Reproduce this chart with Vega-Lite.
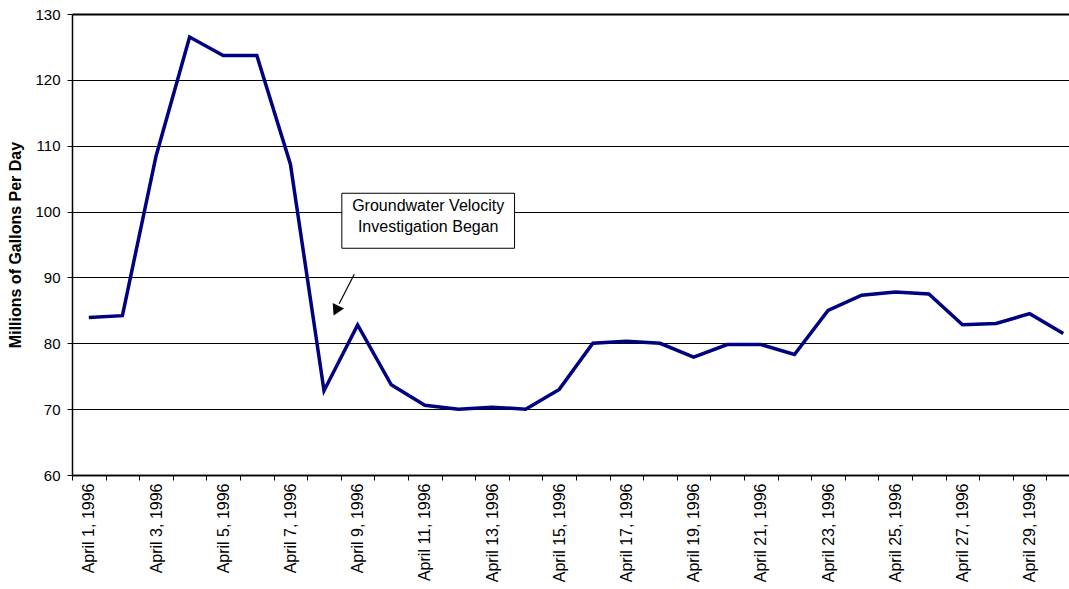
{
  "$schema": "https://vega.github.io/schema/vega-lite/v6.json",
  "autosize": "none",
  "width": 997,
  "height": 461,
  "padding": {"left": 72, "top": 14, "right": 0, "bottom": 114},
  "background": "white",
  "config": {
    "view": {"stroke": null},
    "font": "Liberation Sans"
  },
  "resolve": {"axis": {"x": "independent"}},
  "data": {
    "values": [
      {"day": 1, "mgd": 83.9},
      {"day": 2, "mgd": 84.2},
      {"day": 3, "mgd": 108.4},
      {"day": 4, "mgd": 126.5},
      {"day": 5, "mgd": 123.7},
      {"day": 6, "mgd": 123.7},
      {"day": 7, "mgd": 107.2},
      {"day": 8, "mgd": 72.8},
      {"day": 9, "mgd": 82.8},
      {"day": 10, "mgd": 73.7},
      {"day": 11, "mgd": 70.6},
      {"day": 12, "mgd": 70.0},
      {"day": 13, "mgd": 70.3},
      {"day": 14, "mgd": 70.0},
      {"day": 15, "mgd": 73.0},
      {"day": 16, "mgd": 80.0},
      {"day": 17, "mgd": 80.3},
      {"day": 18, "mgd": 80.0},
      {"day": 19, "mgd": 77.9},
      {"day": 20, "mgd": 79.8},
      {"day": 21, "mgd": 79.8},
      {"day": 22, "mgd": 78.3},
      {"day": 23, "mgd": 85.0},
      {"day": 24, "mgd": 87.3},
      {"day": 25, "mgd": 87.8},
      {"day": 26, "mgd": 87.5},
      {"day": 27, "mgd": 82.8},
      {"day": 28, "mgd": 83.0},
      {"day": 29, "mgd": 84.5},
      {"day": 30, "mgd": 81.5}
    ]
  },
  "layer": [
    {
      "mark": {"type": "line", "color": "#000080", "strokeWidth": 3.5, "strokeJoin": "miter"},
      "encoding": {
        "x": {
          "field": "day",
          "type": "quantitative",
          "scale": {"domain": [0.5, 30.17], "nice": false, "zero": false},
          "axis": {
            "orient": "bottom",
            "title": null,
            "grid": false,
            "values": [1, 3, 5, 7, 9, 11, 13, 15, 17, 19, 21, 23, 25, 27, 29],
            "labelExpr": "'April ' + datum.value + ', 1996'",
            "labelAngle": -90,
            "labelAlign": "right",
            "labelBaseline": "middle",
            "labelFontSize": 16,
            "labelColor": "black",
            "labelOverlap": false,
            "labelFlush": false,
            "labelBound": false,
            "labelPadding": 8,
            "tickSize": 5,
            "ticks": false,
            "domainColor": "black",
            "domainWidth": 1.5
          }
        },
        "y": {
          "field": "mgd",
          "type": "quantitative",
          "scale": {"domain": [60, 130], "nice": false, "zero": false},
          "axis": {
            "title": "Millions of Gallons Per Day",
            "titleFontSize": 16,
            "titleFontWeight": "bold",
            "titleColor": "black",
            "titlePadding": 11,
            "values": [60, 70, 80, 90, 100, 110, 120, 130],
            "labelFontSize": 15,
            "labelColor": "black",
            "labelPadding": 7,
            "tickSize": 5,
            "tickColor": "black",
            "domainColor": "black",
            "domainWidth": 1.5,
            "grid": true,
            "gridColor": "black",
            "gridOpacity": 1,
            "gridWidth": {"condition": {"test": "datum.value == 130", "value": 2}, "value": 1}
          }
        }
      }
    },
    {
      "data": {"values": [{}]},
      "mark": {"type": "rect", "fill": "white", "stroke": "black", "strokeWidth": 1},
      "encoding": {
        "x": {
          "datum": 8.53,
          "type": "quantitative",
          "axis": {
            "orient": "bottom",
            "title": null,
            "grid": false,
            "labels": false,
            "values": [0.5, 1.5, 2.5, 3.5, 4.5, 5.5, 6.5, 7.5, 8.5, 9.5, 10.5, 11.5, 12.5, 13.5, 14.5, 15.5, 16.5, 17.5, 18.5, 19.5, 20.5, 21.5, 22.5, 23.5, 24.5, 25.5, 26.5, 27.5, 28.5, 29.5],
            "tickSize": 5,
            "tickColor": "black",
            "domainColor": "black",
            "domainWidth": 1.5
          }
        },
        "x2": {"datum": 13.67},
        "y": {"datum": 102.78, "type": "quantitative"},
        "y2": {"datum": 94.43}
      }
    },
    {
      "data": {"values": [{}]},
      "mark": {
        "type": "text",
        "text": ["Groundwater Velocity", "Investigation Began"],
        "fontSize": 16,
        "lineHeight": 21,
        "align": "center",
        "baseline": "alphabetic",
        "color": "black"
      },
      "encoding": {
        "x": {"datum": 11.1, "type": "quantitative", "axis": null},
        "y": {"datum": 100.13, "type": "quantitative"}
      }
    },
    {
      "data": {"values": [{}]},
      "mark": {"type": "rule", "color": "black", "strokeWidth": 1.2},
      "encoding": {
        "x": {"datum": 8.9, "type": "quantitative", "axis": null},
        "y": {"datum": 90.48, "type": "quantitative"},
        "x2": {"datum": 8.45},
        "y2": {"datum": 86.0}
      }
    },
    {
      "data": {"values": [{}]},
      "mark": {"type": "point", "shape": "triangle", "filled": true, "color": "black", "opacity": 1, "size": 160, "angle": 206},
      "encoding": {
        "x": {"datum": 8.38, "type": "quantitative", "axis": null},
        "y": {"datum": 85.2, "type": "quantitative"}
      }
    }
  ]
}
